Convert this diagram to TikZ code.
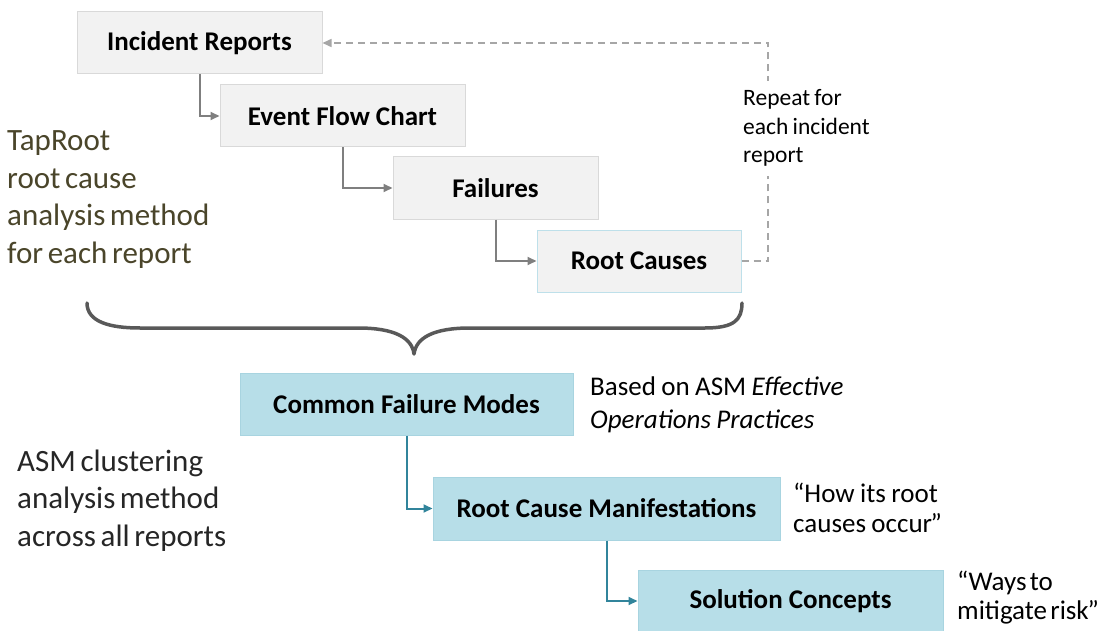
\documentclass[tikz,border=0pt]{standalone}
\usepackage{fontspec}
\setmainfont{Carlito}
\usetikzlibrary{arrows.meta}
\definecolor{fillgray}{HTML}{F2F2F2}
\definecolor{linegray}{HTML}{D9D9D9}
\definecolor{fillblue}{HTML}{B7DEE8}
\definecolor{lineblue}{HTML}{A8D4E0}
\definecolor{paleblue}{HTML}{BEE0EA}
\definecolor{conngray}{HTML}{7F7F7F}
\definecolor{connteal}{HTML}{31849B}
\definecolor{dashgray}{HTML}{A6A6A6}
\definecolor{bracecol}{HTML}{595959}
\definecolor{olivetext}{HTML}{4A452A}
\definecolor{darktext}{HTML}{262626}
\newcommand\myspace[1]{\spaceskip #1em\relax}
\newcommand\sidefont{\fontsize{31}{37.5}\selectfont\myspace{0.15}}
\newcommand\notefont{\fontsize{27}{33}\selectfont\myspace{0.2}}
\newcommand\repfont{\fontsize{23.5}{28.5}\selectfont\myspace{0.18}}
\newcommand\howfont{\fontsize{27}{30}\selectfont\myspace{0.2}}
\newcommand\waysfont{\fontsize{27}{29}\selectfont\myspace{0.12}}
\tikzset{
  graybox/.style={draw=linegray, fill=fillgray, line width=1pt, minimum height=62pt, inner sep=0pt,
    font=\fontsize{27}{32}\selectfont\bfseries},
  bluebox/.style={draw=lineblue, fill=fillblue, line width=1pt, minimum height=62pt, inner sep=0pt,
    font=\fontsize{27}{32}\selectfont\bfseries},
  grayconn/.style={draw=conngray, line width=2pt, -{Triangle[length=9pt,width=8pt]}},
  tealconn/.style={draw=connteal, line width=2pt, -{Triangle[length=9pt,width=8pt]}},
  loopconn/.style={draw=dashgray, line width=1.5pt, dash pattern=on 7pt off 5pt, -{Triangle[length=9pt,width=8pt]}},
  sidetext/.style={anchor=base west, align=left, inner sep=0pt, font=\sidefont},
  note/.style={anchor=base west, align=left, inner sep=0pt, font=\notefont},
}
\begin{document}
\begin{tikzpicture}[x=1pt,y=-1pt]
\useasboundingbox (0,0) rectangle (1105,631);

% top chain
\node[graybox, minimum width=245pt] (ir) at (199.5,43) {Incident Reports};
\node[graybox, minimum width=245pt] (efc) at (342.5,116) {Event Flow Chart};
\node[graybox, minimum width=205pt] (fail) at (495.5,188) {Failures};
\node[graybox, draw=paleblue, minimum width=204pt] (rc) at (639,261) {Root Causes};

\draw[grayconn] (ir.south) |- (efc.west);
\draw[grayconn] (efc.south) |- (fail.west);
\draw[grayconn] (fail.south) |- (rc.west);

\coordinate (loopx) at (768,261);
\draw[loopconn] (rc.east) -- (loopx) |- (ir.east);
\node[note, font=\repfont, fill=white, inner xsep=2pt, inner ysep=9pt] (rep) at (741,163) {Repeat for\\each incident\\report};

% left texts
\node[sidetext, text=olivetext] (tap) at (7,263) {TapRoot\\root cause\\analysis method\\for each report};
\node[sidetext, text=darktext] (asm) at (17,546) {ASM clustering\\analysis method\\across all reports};

% brace
\draw[bracecol, line width=3.5pt, line cap=round, line join=round]
  (87,303) .. controls (87,322) and (110,328) .. (140,328)
  -- (358,328) .. controls (395,328) and (412,338) .. (414,354)
  .. controls (416,338) and (433,328) .. (470,328)
  -- (705,328) .. controls (734,328) and (742,320) .. (742,303);

% bottom chain
\node[bluebox, minimum width=333pt] (cfm) at (406.5,404) {Common Failure Modes};
\node[bluebox, minimum width=347pt, minimum height=63pt] (rcm) at (606.5,508.5) {Root Cause Manifestations};
\node[bluebox, minimum width=305pt] (sc) at (790.5,601) {Solution Concepts};

\draw[tealconn] (cfm.south) |- (rcm.west);
\draw[tealconn] (rcm.south) |- (sc.west);

% notes
\node[note] (n1) at (590,428) {Based on ASM \textit{Effective}\\\textit{Operations Practices}};
\node[note, font=\howfont] (n2) at (793,532) {“How its root\\causes occur\kern-0.06em”};
\node[note, font=\waysfont] (n3) at (957,619) {“Ways to\\mitigate risk\kern-0.04em”};
\end{tikzpicture}
\end{document}
